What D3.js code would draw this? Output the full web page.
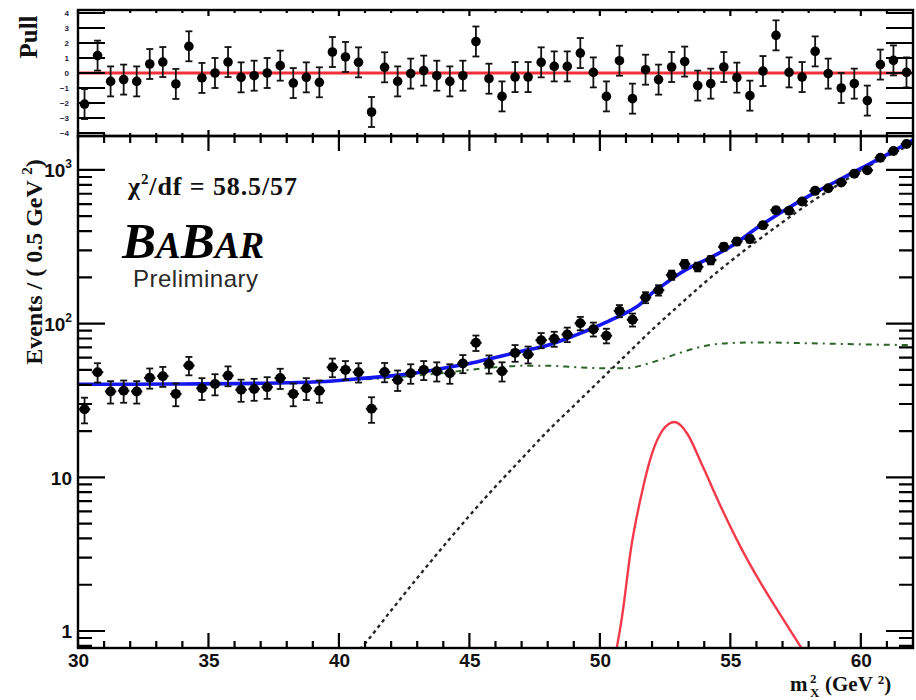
<!DOCTYPE html>
<html>
<head>
<meta charset="utf-8">
<script src="https://cdn.jsdelivr.net/npm/d3@7"></script>
<style>
  body { margin: 0; background: #fff; }
  svg { display: block; }
</style>
</head>
<body>
<div id="chart"></div>
<script>
// ---- data ----
// bin centres, 0.5 GeV^2 bins between 30 and 62
var binCenters = d3.range(64).map(function(i) { return 30.25 + 0.5 * i; });

var counts = [27.7, 48.3, 36.2, 36.6, 36.2, 44.4, 45.5, 34.9, 53.4, 38.0,
              40.5, 45.9, 37.1, 37.6, 38.6, 44.2, 34.9, 38.0, 36.6, 52.0,
              50.0, 48.3, 27.9, 48.5, 43.0, 47.5, 50.0, 49.0, 47.5, 55.0,
              75.0, 54.7, 49.0, 64.5, 63.0, 78.0, 79.6, 85.0, 100.5, 92.0,
              83.5, 121, 106, 148, 165, 207, 244, 234, 259, 316,
              342, 355, 437, 547, 542, 623, 731, 761, 828, 946,
              995, 1202, 1327, 1475];

var pulls = [-2.07, 1.16, -0.56, -0.44, -0.56, 0.6, 0.73, -0.73, 1.78, -0.33,
             0.0, 0.73, -0.29, -0.18, 0.0, 0.49, -0.67, -0.29, -0.62, 1.4,
             1.07, 0.71, -2.6, 0.38, -0.56, -0.04, 0.16, -0.18, -0.56, -0.18,
             2.1, -0.38, -1.56, -0.27, -0.27, 0.71, 0.44, 0.44, 1.33, 0.04,
             -1.56, 0.82, -1.71, 0.22, -0.44, 0.4, 0.76, -0.84, -0.71, 0.4,
             -0.31, -1.51, 0.13, 2.51, 0.04, -0.27, 1.44, -0.04, -1.0, -0.71,
             -1.84, 0.56, 0.84, 0.04];

// total fit (blue)
var fitX = [30, 32, 34, 36, 38, 39, 40, 41, 42, 43, 44, 45, 46, 47, 48, 49, 50, 50.5, 51, 51.5,
            52, 52.5, 53, 53.5, 54, 55, 56, 57, 58, 59, 60, 61, 62];
var fitY = [40.3, 40.3, 40.5, 40.7, 41.2, 41.7, 42.7, 44.2, 45.7, 47.9, 51.3, 55, 60.3, 66.1, 72.4, 83.2, 97.7, 107, 117.5, 132,
            158, 182, 209, 234, 257, 316, 417, 537, 676, 832, 1023, 1259, 1567];

// combinatorial background (green dash-dot)
var bkgX = [30, 34, 38, 40, 42, 44, 45, 46, 47, 48, 49, 50, 51, 52, 53, 54, 55, 56, 58, 60, 62];
var bkgY = [40.3, 40.5, 41.1, 42.5, 44.5, 47.8, 50, 52, 53.2, 53.2, 52.2, 51.3, 51.3, 56, 64, 71.5, 74.8, 75.5, 74.5, 73.3, 72.5];

// peaking background (black dashed)
var peakX = [40.8, 41, 42, 43, 44, 45, 46, 47, 48, 49, 50, 51, 52, 53, 54, 55, 56, 57, 58, 59, 60, 61, 62];
var peakY = [0.76, 0.83, 1.36, 2.21, 3.55, 5.62, 8.71, 13.2, 20.0, 29.2, 42.7, 62.4, 91.2, 130, 184, 254, 343, 457, 603, 776, 989, 1230, 1479];

// signal (red)
var sigX = [50.6, 50.85, 51.2, 51.6, 52.0, 52.4, 52.65, 52.85, 53.1, 53.35, 53.95, 54.7, 55.4, 56.1, 56.8, 57.8];
var sigY = [0.7, 1.24, 3.5, 7.8, 14.3, 20.2, 22.3, 22.9, 21.8, 19.2, 11.7, 6.1, 3.5, 2.14, 1.37, 0.74];

var xTicks = [30, 35, 40, 45, 50, 55, 60];
var yTicks = [1, 10, 100, 1000];
var yTickBase = ["1", "10", "10", "10"];
var yTickExp = ["", "", "2", "3"];
var pullTicks = [-4, -3, -2, -1, 0, 1, 2, 3, 4];

// ---- layout ----
var svgWidth = 916;
var svgHeight = 700;
var plotLeft = 78, plotRight = 913;
var pullTop = 10, pullBottom = 136, mainBottom = 648;

var svg = d3.select('#chart')
  .append('svg')
  .attr('width', svgWidth)
  .attr('height', svgHeight);

var x = d3.scaleLinear().domain([30, 62]).range([plotLeft, plotRight]);
var y = d3.scaleLog().domain([0.775, 1663]).range([mainBottom, pullBottom]);
var yp = d3.scaleLinear().domain([-4.2, 4.2]).range([pullBottom, pullTop]);

var sans = "'Liberation Sans', Arial, sans-serif";
var serif = "'Liberation Serif', 'Times New Roman', serif";

var minorX = d3.range(31, 62).filter(function(v) { return v % 5 !== 0; });
var minorY = [0.8, 0.9];
[1, 10, 100].forEach(function(dec) {
  d3.range(2, 10).forEach(function(k) { if (k * dec < 1663) minorY.push(k * dec); });
});

// ---- axis labels ----
var xAxisMain = svg.append('g').attr('transform', `translate(0, ${mainBottom})`)
  .call(d3.axisBottom(x).tickValues(xTicks).tickSize(0).tickPadding(6));
xAxisMain.select('.domain').remove();
xAxisMain.selectAll('text')
  .style('font-family', sans).style('font-size', '19px').style('font-weight', 'bold').attr('fill', '#111');

var pullAxis = svg.append('g').attr('transform', `translate(${plotLeft}, 0)`)
  .call(d3.axisLeft(yp).tickValues(pullTicks).tickSize(0).tickPadding(9));
pullAxis.select('.domain').remove();
pullAxis.selectAll('text')
  .style('font-family', sans).style('font-size', '8px').style('font-weight', 'bold').attr('fill', '#1a1a40');

// log tick labels 1, 10, 10^2, 10^3
var yLab = svg.append('g')
  .style('font-family', sans).style('font-weight', 'bold').attr('fill', '#111');
yTicks.forEach(function(v, i) {
  var t = yLab.append('text')
    .attr('x', plotLeft - 6)
    .attr('y', y(v))
    .attr('dy', '0.38em')
    .attr('text-anchor', 'end')
    .style('font-size', '19px');
  t.append('tspan').text(yTickBase[i]);
  if (yTickExp[i]) {
    t.append('tspan').attr('dy', '-9').style('font-size', '12px').text(yTickExp[i]);
  }
});

// ---- pull points ----
svg.append('line')
  .attr('x1', plotLeft).attr('x2', plotRight)
  .attr('y1', yp(0)).attr('y2', yp(0))
  .attr('stroke', '#f2303a').attr('stroke-width', 2.8);

var pullG = svg.append('g').selectAll('g')
  .data(binCenters.map(function(c, i) { return { x: c, p: pulls[i] }; }))
  .enter().append('g');
pullG.append('line')
  .attr('x1', d => x(d.x)).attr('x2', d => x(d.x))
  .attr('y1', d => yp(d.p + 1)).attr('y2', d => yp(d.p - 1))
  .attr('stroke', '#111').attr('stroke-width', 1.8);
pullG.append('line')
  .attr('x1', d => x(d.x) - 3.5).attr('x2', d => x(d.x) + 3.5)
  .attr('y1', d => yp(d.p + 1)).attr('y2', d => yp(d.p + 1))
  .attr('stroke', '#111').attr('stroke-width', 1.8);
pullG.append('line')
  .attr('x1', d => x(d.x) - 3.5).attr('x2', d => x(d.x) + 3.5)
  .attr('y1', d => yp(d.p - 1)).attr('y2', d => yp(d.p - 1))
  .attr('stroke', '#111').attr('stroke-width', 1.8);
pullG.append('circle')
  .attr('cx', d => x(d.x)).attr('cy', d => yp(d.p))
  .attr('r', 4.8).attr('fill', '#000');

// ---- main curves ----
svg.append('clipPath').attr('id', 'mainClip')
  .append('rect')
  .attr('x', plotLeft).attr('y', pullBottom)
  .attr('width', plotRight - plotLeft).attr('height', mainBottom - pullBottom);

var curves = svg.append('g').attr('clip-path', 'url(#mainClip)');
var line = d3.line()
  .x(d => x(d[0]))
  .y(d => y(d[1]))
  .curve(d3.curveMonotoneX);

curves.append('path')
  .attr('d', line(d3.zip(bkgX, bkgY)))
  .attr('fill', 'none').attr('stroke', '#2a6426').attr('stroke-width', 2)
  .attr('stroke-dasharray', '6,5,2,5');
curves.append('path')
  .attr('d', line(d3.zip(peakX, peakY)))
  .attr('fill', 'none').attr('stroke', '#262626').attr('stroke-width', 2.4)
  .attr('stroke-dasharray', '3.5,3.5');
curves.append('path')
  .attr('d', line(d3.zip(sigX, sigY)))
  .attr('fill', 'none').attr('stroke', '#f43a4a').attr('stroke-width', 2.4);
curves.append('path')
  .attr('d', line(d3.zip(fitX, fitY)))
  .attr('fill', 'none').attr('stroke', '#1515f0').attr('stroke-width', 3.6);

// ---- main data points ----
var ptsG = svg.append('g').selectAll('g')
  .data(binCenters.map(function(c, i) { return { x: c, n: counts[i], e: Math.sqrt(counts[i]) }; }))
  .enter().append('g');
ptsG.append('line')
  .attr('x1', d => x(d.x)).attr('x2', d => x(d.x))
  .attr('y1', d => y(d.n + d.e)).attr('y2', d => y(d.n - d.e))
  .attr('stroke', '#111').attr('stroke-width', 1.8);
ptsG.append('line')
  .attr('x1', d => x(d.x - 0.22)).attr('x2', d => x(d.x + 0.22))
  .attr('y1', d => y(d.n)).attr('y2', d => y(d.n))
  .attr('stroke', '#111').attr('stroke-width', 2);
ptsG.append('line')
  .attr('x1', d => x(d.x) - 3.5).attr('x2', d => x(d.x) + 3.5)
  .attr('y1', d => y(d.n + d.e)).attr('y2', d => y(d.n + d.e))
  .attr('stroke', '#111').attr('stroke-width', 1.8);
ptsG.append('line')
  .attr('x1', d => x(d.x) - 3.5).attr('x2', d => x(d.x) + 3.5)
  .attr('y1', d => y(d.n - d.e)).attr('y2', d => y(d.n - d.e))
  .attr('stroke', '#111').attr('stroke-width', 1.8);
ptsG.append('circle')
  .attr('cx', d => x(d.x)).attr('cy', d => y(d.n))
  .attr('r', 5).attr('fill', '#000');

// ---- frames ----
svg.append('rect')
  .attr('x', plotLeft).attr('y', pullTop)
  .attr('width', plotRight - plotLeft).attr('height', pullBottom - pullTop)
  .attr('fill', 'none').attr('stroke', '#000').attr('stroke-width', 2.4);
svg.append('rect')
  .attr('x', plotLeft).attr('y', pullBottom)
  .attr('width', plotRight - plotLeft).attr('height', mainBottom - pullBottom)
  .attr('fill', 'none').attr('stroke', '#000').attr('stroke-width', 2.4);

// ---- tick marks pointing into the frames, one path ----
var tickPath = d3.path();
function xTicksAt(vals, yBase, len) {
  vals.forEach(function(v) { tickPath.moveTo(x(v), yBase); tickPath.lineTo(x(v), yBase + len); });
}
function yTicksAt(scale, vals, xBase, len) {
  vals.forEach(function(v) { tickPath.moveTo(xBase, scale(v)); tickPath.lineTo(xBase + len, scale(v)); });
}

// main panel
xTicksAt(minorX, mainBottom, -7);
xTicksAt(xTicks, mainBottom, -15);
xTicksAt(minorX, pullBottom, 7);
xTicksAt(xTicks, pullBottom, 15);
yTicksAt(y, minorY, plotLeft, 14);
yTicksAt(y, yTicks, plotLeft, 27);
yTicksAt(y, minorY, plotRight, -14);
yTicksAt(y, yTicks, plotRight, -27);
// pull panel
xTicksAt(minorX, pullBottom, -3);
xTicksAt(xTicks, pullBottom, -6);
xTicksAt(minorX, pullTop, 3);
xTicksAt(xTicks, pullTop, 6);
yTicksAt(yp, pullTicks, plotLeft, 27);
yTicksAt(yp, pullTicks, plotRight, -27);

svg.append('path')
  .attr('d', tickPath.toString())
  .attr('fill', 'none')
  .attr('stroke', '#000')
  .attr('stroke-width', 2.2);

// ---- texts ----
var chi = svg.append('text')
  .attr('x', 128).attr('y', 195)
  .style('font-family', serif).style('font-size', '26px').style('font-weight', 'bold')
  .style('letter-spacing', '0.9px')
  .attr('fill', '#111');
chi.append('tspan').text('χ');
chi.append('tspan').attr('dy', -11).style('font-size', '15px').text('2');
chi.append('tspan').attr('dy', 11).text('/df = 58.5/57');

var babar = svg.append('text')
  .attr('x', 122).attr('y', 258)
  .style('font-family', serif).style('font-weight', 'bold').style('font-style', 'italic')
  .attr('fill', '#000');
babar.append('tspan').style('font-size', '51px').text('B');
babar.append('tspan').style('font-size', '37px').text('A');
babar.append('tspan').style('font-size', '51px').text('B');
babar.append('tspan').style('font-size', '37px').text('AR');

svg.append('text')
  .attr('x', 133).attr('y', 287)
  .style('font-family', sans).style('font-size', '24px')
  .style('letter-spacing', '0.5px')
  .attr('fill', '#2a2a2a')
  .text('Preliminary');

// y axis title
var yTitle = svg.append('text')
  .attr('transform', 'translate(42, 262) rotate(-90)')
  .attr('text-anchor', 'middle')
  .style('font-family', serif).style('font-size', '24px').style('font-weight', 'bold')
  .attr('fill', '#111');
yTitle.append('tspan').text('Events / ( 0.5 GeV  ');
yTitle.append('tspan').attr('dy', -10).style('font-size', '15px').text('2');
yTitle.append('tspan').attr('dy', 10).text(')');

svg.append('text')
  .attr('transform', 'translate(37, 37) rotate(-90)')
  .attr('text-anchor', 'middle')
  .style('font-family', serif).style('font-size', '25px').style('font-weight', 'bold')
  .attr('fill', '#111')
  .text('Pull');

// x axis title  m^2_X (GeV ^2)
var xTitle = svg.append('text')
  .attr('y', 691)
  .style('font-family', serif).style('font-size', '21px').style('font-weight', 'bold')
  .attr('fill', '#111');
xTitle.append('tspan').attr('x', 790).text('m');
xTitle.append('tspan').attr('x', 810).attr('dy', -8).style('font-size', '13px').text('2');
xTitle.append('tspan').attr('x', 810).attr('dy', 14).style('font-size', '13px').text('X');
xTitle.append('tspan').attr('x', 825).attr('dy', -6).text('(GeV ');
xTitle.append('tspan').attr('dy', -7).style('font-size', '13px').text('2');
xTitle.append('tspan').attr('dy', 7).text(')');
</script>
</body>
</html>
